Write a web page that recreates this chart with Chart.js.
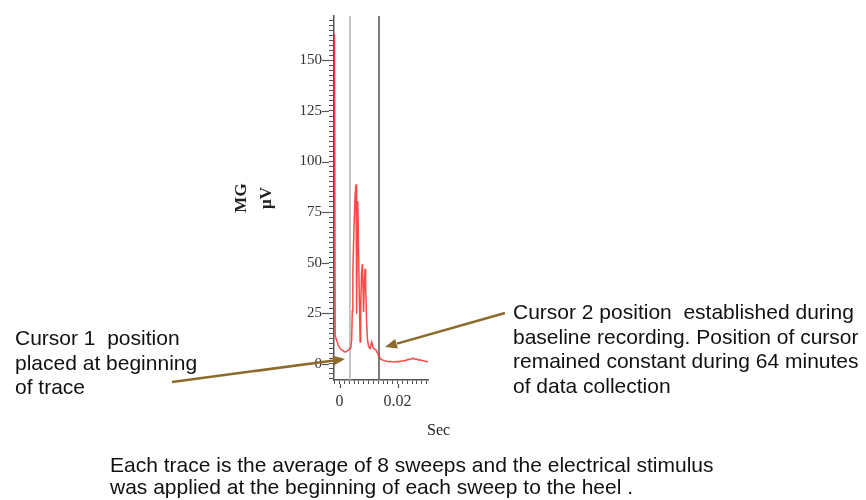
<!DOCTYPE html>
<html>
<head>
<meta charset="utf-8">
<script src="https://cdn.jsdelivr.net/npm/chart.js@4.4.0/dist/chart.umd.min.js"></script>
<style>
  html, body { margin: 0; padding: 0; background: #fff; }
  #wrap { position: relative; width: 866px; height: 500px; overflow: hidden; }
  #c { position: absolute; left: 0; top: 0; }
  svg { position: absolute; left: 0; top: 0; }
  .note {
    position: absolute; white-space: nowrap; color: #111;
    font-family: "Liberation Sans", Arial, sans-serif; font-size: 21px; line-height: 24.5px;
  }
  .ax { position: absolute; white-space: nowrap; color: #222; font-family: "Liberation Serif", "Times New Roman", serif; }
  #ytitle {
    left: 223px; top: 173px; width: 60px; height: 50px; text-align: center;
    font-size: 17px; font-weight: bold; line-height: 25px; transform: rotate(-90deg);
  }
  #xtitle { left: 427px; top: 420px; font-size: 16px; line-height: 20px; }
</style>
</head>
<body>
<div id="wrap">
  <canvas id="c" width="866" height="500"></canvas>

  <!-- fleches des curseurs -->
  <svg width="866" height="500">
    <g stroke="#8c6a2c" stroke-width="2.5" fill="#8c6a2c">
      <line x1="172" y1="382" x2="334" y2="360.5" />
      <polygon stroke="none" points="345,359 333.8,365.5 332.4,355.6" />
      <line x1="505" y1="313" x2="397" y2="343.6" />
      <polygon stroke="none" points="385,347 397.9,348.5 395.1,338.9" />
    </g>
  </svg>

  <div class="ax" id="ytitle">MG<br>μV</div>
  <div class="ax" id="xtitle">Sec</div>

  <div class="note" style="left:15px; top:326px;">Cursor 1&nbsp; position<br>placed at beginning<br>of trace</div>
  <div class="note" style="left:513px; top:300px;">Cursor 2 position&nbsp; established during<br>baseline recording. Position of cursor<br>remained constant during 64 minutes<br>of data collection</div>
  <div class="note" style="left:110px; top:454px; line-height:22px;">Each trace is the average of 8 sweeps and the electrical stimulus<br>was applied at the beginning of each sweep to the heel .</div>
</div>

<script>
// ---- donnees ----
// temps (s)
var timeSec = [
  -0.00172, -0.00150, -0.00121, -0.00086, -0.00041, 0.00017, 0.0006, 0.0011, 0.0015, 0.0019,
  0.0024, 0.0030, 0.0035, 0.0039, 0.0042, 0.0044, 0.0046, 0.0050, 0.0054, 0.0057,
  0.0059, 0.0061, 0.0063, 0.0065, 0.0068, 0.0071, 0.0073, 0.0076, 0.0079, 0.0081,
  0.0083, 0.0085, 0.0088, 0.0090, 0.0093, 0.0096, 0.0100, 0.0105, 0.0108, 0.0111,
  0.0114, 0.0117, 0.0121, 0.0126, 0.0130, 0.0134, 0.0137, 0.0140, 0.0145, 0.0151,
  0.0156, 0.0162, 0.0168, 0.0174, 0.0180, 0.0186, 0.0191, 0.0197, 0.0203, 0.0208,
  0.0214, 0.0220, 0.0226, 0.0232, 0.0237, 0.0242, 0.0248, 0.0254, 0.0260, 0.0266,
  0.0272, 0.0278, 0.0284, 0.0289, 0.0295, 0.0300, 0.0305
];
// amplitude moyenne (microvolts)
var emgMicroV = [
  163, 14, 12.4, 11, 9.1, 7.5, 7.0, 6.6, 6.0, 5.8,
  6.0, 6.6, 7.4, 8.0, 12, 26, 45, 68, 84, 88.7,
  24.7, 60, 80.5, 62, 35, 10.7, 28, 45, 49.3, 38,
  25.5, 38, 46.9, 40, 22, 12.4, 8.5, 7.5, 9, 10.7,
  9, 7.5, 7.2, 6.6, 5.4, 4.2, 3.4, 2.6, 2.0, 1.7,
  1.5, 1.2, 0.9, 1.2, 1.0, 0.8, 0.9, 1.1, 0.9, 1.2,
  1.2, 1.5, 1.4, 1.8, 2.1, 2.0, 2.4, 2.6, 2.2, 2.3,
  1.7, 1.9, 1.5, 1.4, 1.2, 1.1, 0.9
];
// positions des curseurs (s)
var cursorSec = [0.0036, 0.0136];
var cursorColors = ['#b4b4b4', '#7a7a7a'];
var cursorWidths = [1.5, 2];

// axes
var xMin = -0.0019, xMax = 0.0305;
var yMin = -8.1, yMax = 172;
var xMinorStep = 0.02 / 12;
var xTickLabels = [0, 0.02];
var yMinorStep = 2.5;
var yTickLabels = [0, 25, 50, 75, 100, 125, 150];

var tickFont = { family: '"Liberation Serif", "Times New Roman", serif', size: 15 };

function near(a, b) { return Math.abs(a - b) < 1e-9; }

var traceData = timeSec.map(function (t, i) { return { x: t, y: emgMicroV[i] }; });

var datasets = [{
  data: traceData,
  borderColor: 'rgba(255, 40, 40, 0.85)',
  borderWidth: 1.5,
  pointRadius: 0,
  tension: 0,
  order: 1
}];
cursorSec.forEach(function (c, i) {
  datasets.push({
    data: [{ x: c, y: yMin }, { x: c, y: yMax }],
    borderColor: cursorColors[i],
    borderWidth: cursorWidths[i],
    pointRadius: 0,
    order: 2
  });
});

// petits traits plus longs pour les graduations principales
var majorTicks = {
  id: 'majorTicks',
  afterDraw: function (chart) {
    var ctx = chart.ctx, xs = chart.scales.x, ys = chart.scales.y;
    ctx.save();
    ctx.strokeStyle = '#555';
    ctx.lineWidth = 1.2;
    yTickLabels.forEach(function (v) {
      var py = Math.round(ys.getPixelForValue(v)) + 0.5;
      ctx.beginPath();
      ctx.moveTo(ys.right - 12, py);
      ctx.lineTo(ys.right - 5, py);
      ctx.stroke();
    });
    xTickLabels.forEach(function (v) {
      var px = Math.round(xs.getPixelForValue(v)) + 0.5;
      ctx.beginPath();
      ctx.moveTo(px, xs.top + 4);
      ctx.lineTo(px, xs.top + 8);
      ctx.stroke();
    });
    ctx.restore();
  }
};

new Chart(document.getElementById('c'), {
  type: 'line',
  data: { datasets: datasets },
  plugins: [majorTicks],
  options: {
    responsive: false,
    devicePixelRatio: 1,
    animation: false,
    layout: { padding: { left: 294, right: 438, top: 14, bottom: 90 } },
    plugins: { legend: { display: false }, tooltip: { enabled: false } },
    scales: {
      x: {
        type: 'linear',
        min: xMin,
        max: xMax,
        afterFit: function (s) { s.height = 30; },
        afterBuildTicks: function (s) {
          var t = [];
          for (var k = -1; k * xMinorStep <= xMax; k++) t.push({ value: k * xMinorStep });
          s.ticks = t;
        },
        grid: { drawOnChartArea: false, tickLength: 4, color: '#555', tickColor: '#555' },
        border: { color: '#555', width: 1.5 },
        ticks: {
          autoSkip: false,
          maxRotation: 0,
          padding: 8,
          color: '#333',
          font: { family: tickFont.family, size: 16 },
          callback: function (v) {
            for (var i = 0; i < xTickLabels.length; i++) if (near(v, xTickLabels[i])) return String(xTickLabels[i]);
            return '';
          }
        }
      },
      y: {
        type: 'linear',
        min: yMin,
        max: yMax,
        afterFit: function (s) { s.width = 40; },
        afterBuildTicks: function (s) {
          var t = [];
          for (var k = Math.ceil(yMin / yMinorStep); k * yMinorStep <= yMax; k++) t.push({ value: k * yMinorStep });
          s.ticks = t;
        },
        grid: { drawOnChartArea: false, tickLength: 5, color: '#555', tickColor: '#555' },
        border: { color: '#555', width: 1.5 },
        ticks: {
          autoSkip: false,
          padding: 7,
          color: '#333',
          font: tickFont,
          callback: function (v) {
            for (var i = 0; i < yTickLabels.length; i++) if (near(v, yTickLabels[i])) return String(yTickLabels[i]);
            return '';
          }
        }
      }
    }
  }
});
</script>
</body>
</html>
